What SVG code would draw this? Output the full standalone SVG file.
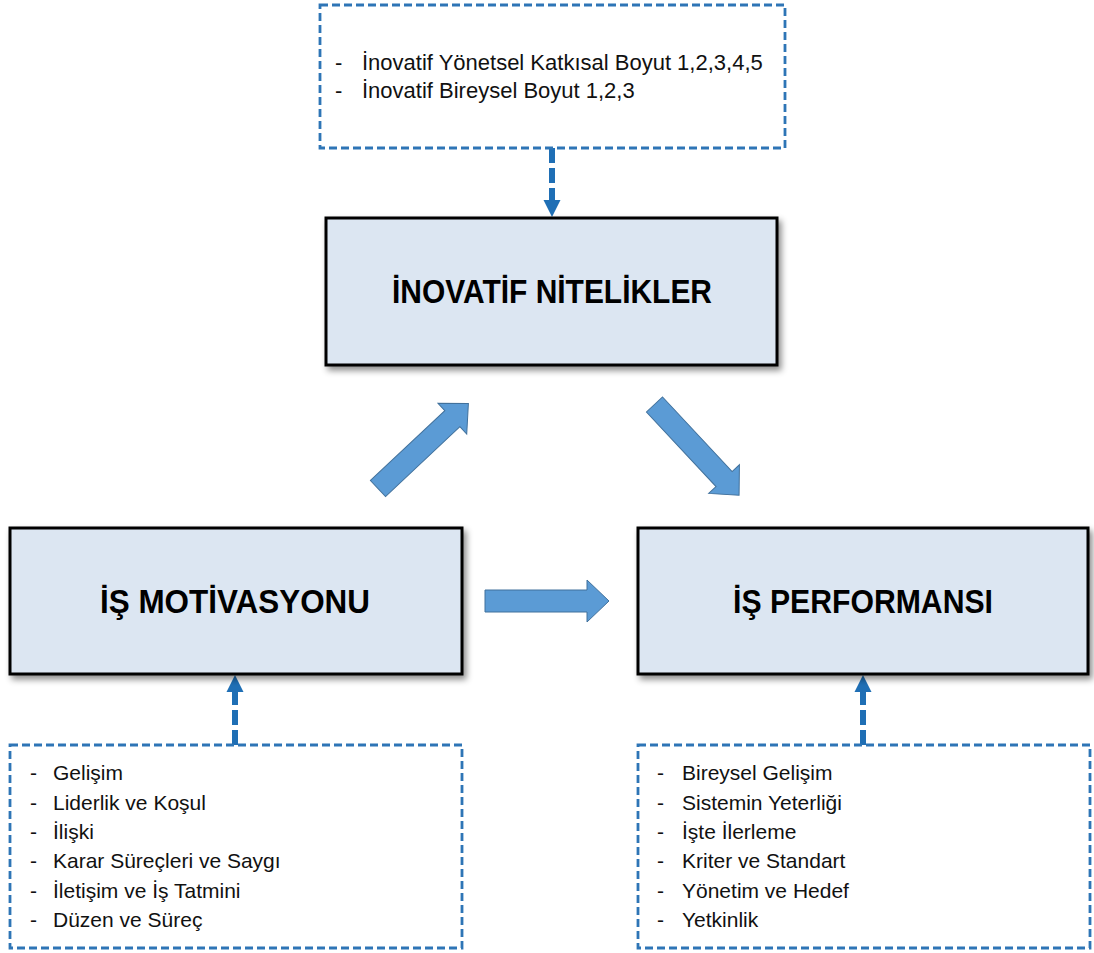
<svg xmlns="http://www.w3.org/2000/svg" width="1094" height="953" viewBox="0 0 1094 953">
  <style>
    .main { fill: #dce6f2; stroke: #000; stroke-width: 3; }
    .dbox { fill: #fff; stroke: #2e75b6; stroke-width: 2.8; stroke-dasharray: 8 4; }
    .title { font-family: "Liberation Sans", Arial, sans-serif; font-weight: bold; font-size: 34px; fill: #000; text-anchor: middle; }
    .item { font-family: "Liberation Sans", Arial, sans-serif; font-size: 21px; fill: #111; }
    .top { font-size: 22px; }
    .blk { fill: #5b9bd5; stroke: #41719c; stroke-width: 1; }
    .dline { stroke: #1f6fb5; stroke-width: 6; stroke-dasharray: 15 5; fill: none; }
    .dhead { fill: #1f6fb5; }
  </style>
  <defs>
    <filter id="sh" x="-10%" y="-10%" width="125%" height="130%">
      <feDropShadow dx="3" dy="4" stdDeviation="3" flood-color="#000" flood-opacity="0.45"/>
    </filter>
    <polygon id="blockArrow" points="0,-11 102,-11 102,-21 124,0 102,21 102,11 0,11"/>
  </defs>
  <rect width="1094" height="953" fill="#fff"/>

  <g id="connectors">
    <line class="dline" x1="552" y1="148" x2="552" y2="201"/>
    <polygon class="dhead" points="543.5,200 560.5,200 552,217"/>
    <line class="dline" x1="235" y1="745" x2="235" y2="691"/>
    <polygon class="dhead" points="226.5,692 243.5,692 235,675"/>
    <line class="dline" x1="863" y1="745" x2="863" y2="691"/>
    <polygon class="dhead" points="854.5,692 871.5,692 863,675"/>
    <use href="#blockArrow" class="blk" transform="translate(485,601)"/>
    <use href="#blockArrow" class="blk" transform="translate(378,488.5) rotate(-43.2)"/>
    <use href="#blockArrow" class="blk" transform="translate(654.5,404.5) rotate(47)"/>
  </g>

  <g id="top-list">
    <rect class="dbox" x="320" y="5" width="465" height="143"/>
    <text class="item top" x="335" y="70">-</text>
    <text class="item top" x="362" y="70">İnovatif Yönetsel Katkısal Boyut 1,2,3,4,5</text>
    <text class="item top" x="335" y="98">-</text>
    <text class="item top" x="362" y="98">İnovatif Bireysel Boyut 1,2,3</text>
  </g>

  <g id="inovatif">
    <rect class="main" x="326" y="218" width="451" height="147" filter="url(#sh)"/>
    <text class="title" x="552" y="303" textLength="320" lengthAdjust="spacingAndGlyphs">İNOVATİF NİTELİKLER</text>
  </g>

  <g id="motivasyon">
    <rect class="main" x="10" y="528" width="452" height="146" filter="url(#sh)"/>
    <text class="title" x="235" y="613" textLength="270" lengthAdjust="spacingAndGlyphs">İŞ MOTİVASYONU</text>
  </g>

  <g id="performans">
    <rect class="main" x="638" y="528" width="450" height="146" filter="url(#sh)"/>
    <text class="title" x="863" y="613" textLength="260" lengthAdjust="spacingAndGlyphs">İŞ PERFORMANSI</text>
  </g>

  <g id="motivasyon-list">
    <rect class="dbox" x="10" y="745" width="452" height="203"/>
    <text class="item" x="30" y="780">-</text><text class="item" x="53" y="780">Gelişim</text>
    <text class="item" x="30" y="810">-</text><text class="item" x="53" y="810">Liderlik ve Koşul</text>
    <text class="item" x="30" y="839">-</text><text class="item" x="53" y="839">İlişki</text>
    <text class="item" x="30" y="868">-</text><text class="item" x="53" y="868">Karar Süreçleri ve Saygı</text>
    <text class="item" x="30" y="898">-</text><text class="item" x="53" y="898">İletişim ve İş Tatmini</text>
    <text class="item" x="30" y="927">-</text><text class="item" x="53" y="927">Düzen ve Süreç</text>
  </g>

  <g id="performans-list">
    <rect class="dbox" x="638" y="745" width="452" height="203"/>
    <text class="item" x="657" y="780">-</text><text class="item" x="682" y="780">Bireysel Gelişim</text>
    <text class="item" x="657" y="810">-</text><text class="item" x="682" y="810">Sistemin Yeterliği</text>
    <text class="item" x="657" y="839">-</text><text class="item" x="682" y="839">İşte İlerleme</text>
    <text class="item" x="657" y="868">-</text><text class="item" x="682" y="868">Kriter ve Standart</text>
    <text class="item" x="657" y="898">-</text><text class="item" x="682" y="898">Yönetim ve Hedef</text>
    <text class="item" x="657" y="927">-</text><text class="item" x="682" y="927">Yetkinlik</text>
  </g>
</svg>
